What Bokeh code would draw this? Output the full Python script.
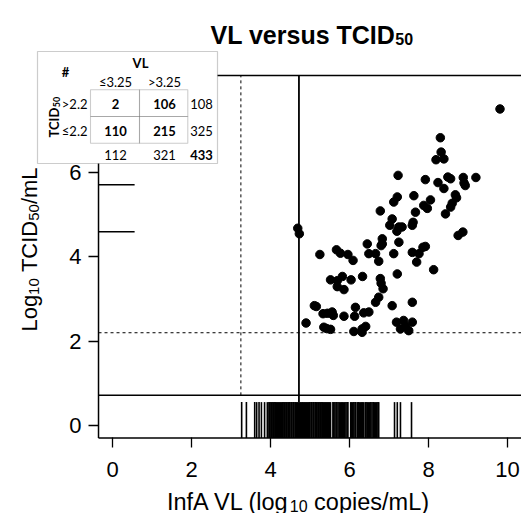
import math
from bokeh.plotting import figure
from bokeh.models import Label, BoxAnnotation, FixedTicker, LinearAxis
from bokeh.embed import file_html
from bokeh.resources import INLINE

# ---------------- data ----------------
vl = [9.81, 8.30, 8.32, 8.19, 8.39, 7.23, 7.92, 8.24, 8.39, 8.49,
      8.56, 8.88, 8.90, 8.93, 9.20, 7.63, 8.68, 7.21, 7.12, 8.05,
      7.88, 7.97, 8.60, 8.71, 8.56, 6.78, 7.67, 8.43, 7.08, 7.61,
      7.59, 7.02, 7.25, 7.33, 7.20, 8.75, 8.87, 4.69, 4.73, 6.45,
      6.83, 6.83, 6.80, 7.25, 6.49, 6.66, 6.74, 7.12, 7.59, 7.76,
      7.70, 7.86, 7.92, 5.25, 5.67, 5.77, 5.96, 6.09, 8.13, 7.21,
      5.52, 5.69, 5.82, 5.69, 5.86, 6.04, 6.33, 6.78, 6.80, 6.85,
      6.74, 6.66, 7.08, 7.59, 5.11, 5.16, 5.33, 5.44, 5.56, 5.59,
      5.86, 6.15, 6.13, 6.36, 6.49, 4.90, 5.35, 5.52, 6.11, 6.32,
      6.41, 6.32, 7.19, 7.37, 7.59, 7.29, 7.50, 7.42, 5.42]
tcid = [7.49, 6.81, 6.47, 6.29, 6.31, 5.92, 5.82, 5.75, 5.61, 5.88,
        5.84, 5.87, 5.74, 5.68, 5.87, 5.44, 5.46, 5.41, 5.29, 5.34,
        5.21, 5.14, 5.26, 5.39, 5.17, 5.08, 5.05, 5.01, 4.89, 4.81,
        4.74, 4.74, 4.70, 4.70, 4.60, 4.50, 4.58, 4.67, 4.54, 4.30,
        4.42, 4.30, 4.26, 4.34, 4.07, 4.07, 3.89, 4.07, 4.10, 4.07,
        3.87, 4.22, 4.24, 4.05, 4.16, 4.08, 4.05, 3.91, 3.69, 3.59,
        3.45, 3.43, 3.53, 3.29, 3.22, 3.45, 3.53, 3.48, 3.37, 3.24,
        3.04, 2.92, 2.84, 2.92, 2.84, 2.82, 2.65, 2.66, 2.69, 2.61,
        2.59, 2.80, 2.59, 2.67, 2.69, 2.43, 2.33, 2.28, 2.23, 2.29,
        2.35, 2.21, 2.45, 2.49, 2.45, 2.29, 2.25, 2.35, 2.30]

# VL of samples with undetectable TCID50 (bottom rug)
rug_vl = [3.27, 3.39, 3.60, 3.65, 3.71, 3.77, 3.85, 3.92,
          3.96, 3.98, 4.01, 4.03, 4.06, 4.08, 4.11, 4.13, 4.15, 4.18,
          4.20, 4.23, 4.25, 4.28, 4.30, 4.32, 4.35, 4.37, 4.40, 4.42,
          4.45, 4.47, 4.49, 4.52, 4.54, 4.57, 4.59, 4.62, 4.64, 4.66,
          4.69, 4.71, 4.74, 4.76, 4.79, 4.81, 4.83, 4.86, 4.88, 4.91,
          4.93, 4.96, 4.98, 5.00, 5.03, 5.05, 5.08, 5.10, 5.13, 5.15,
          5.17, 5.20, 5.22, 5.25, 5.27, 5.30, 5.32, 5.34, 5.37, 5.39,
          5.42, 5.44, 5.47, 5.49, 5.52,
          5.58, 5.60, 5.63, 5.66, 5.68, 5.71, 5.74, 5.77, 5.80, 5.82,
          5.85, 5.88, 5.91, 5.94, 5.96, 6.03, 6.05, 6.08, 6.11, 6.14,
          6.16, 6.20, 6.22, 6.25, 6.28, 6.31, 6.33, 6.36, 6.40, 6.42,
          6.45, 6.48, 6.51, 6.54, 6.57, 6.60, 6.63, 6.66, 6.69, 6.72,
          6.74, 7.14, 7.21, 7.29, 7.57]
# TCID50 of samples with undetectable VL (left rug)
rug_tcid = [5.70, 4.59]

x_ticks = [0, 2, 4, 6, 8, 10]
y_ticks = [0, 2, 4, 6]
vl_cut = 3.25
tcid_cut = 2.2
vl_line = 4.72
rug_sep = 0.72
rug_top = 0.56
rug_left_end = 0.56
xlim = (-0.354, 10.8)
ylim = (-0.288, 8.281)

table_col_labels = ["\u22643.25", ">3.25"]
table_row_labels = [">2.2", "\u22642.2"]
counts = [[2, 106], [110, 215]]
row_totals = [108, 325]
col_totals = [112, 321]
grand_total = 433

# ---------------- layout (frame = whole canvas) ----------------
W, H = 521, 513
PXX, PXY = 39.5, 42.3            # pixels per data unit
X0 = -112 / PXX
X1 = X0 + W / PXX
Y1 = 425.3 / PXY
Y0 = Y1 - H / PXY

def X(ix):
    return X0 + ix / PXX

def Y(iy):
    return Y1 - iy / PXY

p = figure(width=W, height=H, x_range=(X0, X1), y_range=(Y0, Y1),
           output_backend="svg", toolbar_location=None, title=None,
           x_axis_location=None, y_axis_location=None,
           min_border_left=0, min_border_right=0,
           min_border_top=0, min_border_bottom=0)
p.outline_line_color = None
p.xgrid.visible = False
p.ygrid.visible = False
p.background_fill_color = "white"
p.border_fill_color = "white"

xax = LinearAxis(fixed_location=ylim[0])
yax = LinearAxis(fixed_location=xlim[0])
for ax, ticks in ((xax, x_ticks), (yax, y_ticks)):
    ax.ticker = FixedTicker(ticks=ticks)
    ax.axis_line_color = None
    ax.major_tick_out = 10
    ax.major_tick_in = 0
    ax.major_tick_line_width = 1.3
    ax.major_tick_line_color = "black"
    ax.minor_tick_line_color = None
    ax.major_label_text_font = "Liberation Sans"
    ax.major_label_text_font_size = "22px"
    ax.major_label_text_color = "black"
xax.major_label_standoff = 14
yax.major_label_standoff = 7
p.add_layout(xax, "below")
p.add_layout(yax, "left")

# plot-region box (left, top, bottom)
p.segment(x0=[xlim[0], xlim[0], xlim[0]], y0=[ylim[0], ylim[1], ylim[0]],
          x1=[xlim[0], xlim[1], xlim[1]], y1=[ylim[1], ylim[1], ylim[0]],
          line_color="black", line_width=1.5)

# separators and thresholds
p.segment(x0=[xlim[0]], y0=[rug_sep], x1=[xlim[1]], y1=[rug_sep],
          line_color="black", line_width=1.5)
p.segment(x0=[xlim[0]], y0=[tcid_cut], x1=[xlim[1]], y1=[tcid_cut],
          line_color="black", line_width=1, line_dash="3 3")
p.segment(x0=[vl_cut], y0=[rug_sep], x1=[vl_cut], y1=[ylim[1]],
          line_color="black", line_width=1, line_dash="3 3")
p.segment(x0=[vl_line], y0=[rug_top], x1=[vl_line], y1=[ylim[1]],
          line_color="black", line_width=1.8)

# rugs
p.segment(x0=rug_vl, y0=[ylim[0]] * len(rug_vl), x1=rug_vl, y1=[rug_top] * len(rug_vl),
          line_color="black", line_width=1.6)
p.segment(x0=[xlim[0]] * len(rug_tcid), y0=rug_tcid, x1=[rug_left_end] * len(rug_tcid),
          y1=rug_tcid, line_color="black", line_width=1.5)

# points
p.scatter(vl, tcid, size=8.5, color="black")

def W_arial(s, bold=False):
    reg = {' ': 278, '(': 333, ')': 333, '/': 278, 'A': 667, 'C': 722, 'D': 722,
           'I': 278, 'L': 556, 'T': 611, 'V': 667, 'c': 500, 'e': 556, 'f': 278,
           'g': 556, 'i': 222, 'l': 222, 'm': 833, 'n': 556, 'o': 556, 'p': 556,
           's': 500, 'r': 333, 'u': 556, 'v': 500}
    bld = {' ': 278, 'V': 667, 'L': 611, 'v': 556, 'e': 556, 'r': 389, 's': 556,
           'u': 611, 'T': 611, 'C': 722, 'I': 278, 'D': 722}
    tab = bld if bold else reg
    return sum(556 if ch.isdigit() else tab.get(ch, 556) for ch in s) / 1000.0

def lab(text, ix, iy, size, bold=False, align="left", baseline="alphabetic",
        angle=0.0, font="Liberation Sans", color="black"):
    p.add_layout(Label(x=X(ix), y=Y(iy), text=text, text_font=font,
                       text_font_size=f"{size}px",
                       text_font_style="bold" if bold else "normal",
                       text_align=align, text_baseline=baseline, angle=angle,
                       text_color=color))

# title: "VL versus TCID" + subscript 50
t_main, t_sub = "VL versus TCID", "50"
tx, ty = 210, 34
lab(t_main, tx, ty, 25, bold=True)
lab(t_sub, tx + W_arial(t_main, True) * 25, ty + 4.5, 16, bold=True)

# x axis label  (pieces: text, font size, baseline offset; leading spaces as advance)
pieces_x = [("InfA VL (log", 23.5, 0), ("10", 16, 4), (" copies/mL)", 23.5, 0)]
total = sum(W_arial(s) * fs for s, fs, _ in pieces_x)
cx = 297.5 - total / 2
for s, fs, off in pieces_x:
    lead = len(s) - len(s.lstrip(" "))
    lab(s.lstrip(" "), cx + W_arial(" " * lead) * fs, 501 + off, fs)
    cx += W_arial(s) * fs

# y axis label (rotated, bottom-to-top)
pieces_y = [("Log", 22, 0), ("10", 15, 4), (" TCID", 22, 0), ("50", 15, 4), ("/mL", 22, 0)]
total = sum(W_arial(s) * fs for s, fs, _ in pieces_y)
cy = 249 + total / 2
for s, fs, off in pieces_y:
    lead = len(s) - len(s.lstrip(" "))
    lab(s.lstrip(" "), 29 + off, cy - W_arial(" " * lead) * fs, fs, angle=math.pi / 2)
    cy -= W_arial(s) * fs

# ---------------- inset table ----------------
TF = "Lato"
p.add_layout(BoxAnnotation(left=X(37), right=X(217), top=Y(51), bottom=Y(163),
                           fill_color="white", fill_alpha=1.0,
                           line_color="#555555", line_width=1.2))
cols_x = [(90, 139), (139, 187.3)]
rows_y = [(89.3, 116), (116, 142.7)]
for (l, r) in cols_x:
    for (t, b) in rows_y:
        p.add_layout(BoxAnnotation(left=X(l), right=X(r), top=Y(t), bottom=Y(b),
                                   fill_alpha=0.0, line_color="#555555", line_width=1.1))

col_cx = [115, 164]
row_cy = [103.3, 130]
tot_cx = 201
tot_cy = 154.3
lab("#", 65, 71.7, 13, bold=True, align="center", baseline="middle", font=TF)
lab("VL", 140, 62.7, 13, bold=True, align="center", baseline="middle", font=TF)
for j, s in enumerate(table_col_labels):
    lab(s, col_cx[j], 81.7, 13, align="center", baseline="middle", font=TF)
for i, s in enumerate(table_row_labels):
    lab(s, 87, row_cy[i], 13, align="right", baseline="middle", font=TF)
    for j in range(2):
        lab(str(counts[i][j]), col_cx[j], row_cy[i], 13, bold=True,
            align="center", baseline="middle", font=TF)
    lab(str(row_totals[i]), tot_cx, row_cy[i], 13, align="center", baseline="middle", font=TF)
for j in range(2):
    lab(str(col_totals[j]), col_cx[j], tot_cy, 13, align="center", baseline="middle", font=TF)
lab(str(grand_total), tot_cx, tot_cy, 13, bold=True, align="center", baseline="middle", font=TF)
# rotated TCID50 row header
lab("TCID", 53, 137, 13, bold=True, angle=math.pi / 2, font=TF)
lab("50", 56, 137 - W_arial("TCID", True) * 13, 9, bold=True, angle=math.pi / 2, font=TF)

open("out.html", "w").write(file_html(p, INLINE))
